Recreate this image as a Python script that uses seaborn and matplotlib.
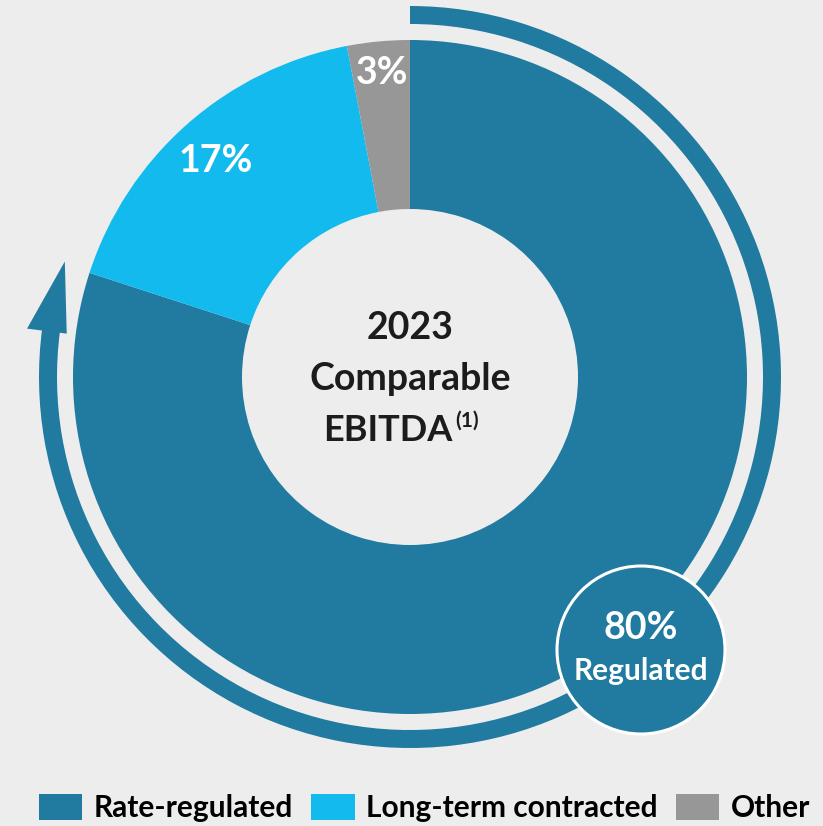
import numpy as np
import seaborn as sns
import matplotlib.pyplot as plt
from matplotlib.patches import Wedge, Circle, Polygon

sns.set_theme(style="white")
plt.rcParams['font.family'] = ['Lato', 'DejaVu Sans']

# data
categories = ["Rate-regulated", "Long-term contracted", "Other"]
shares = [80, 17, 3]
share_labels = ["", "17%", "3%"]
colors = ["#217AA0", "#12BAEE", "#979797"]
center_title = ["2023", "Comparable", "EBITDA"]
badge_text = ["80%", "Regulated"]

W, H = 823, 826
BG = "#EDEDED"
DARK = "#1C1C1C"


def py(y):
    # pixel row (from top) -> data y
    return H - y


fig = plt.figure(figsize=(W / 100, H / 100), dpi=100, facecolor=BG)
ax = fig.add_axes([0, 0, 1, 1])
ax.set_facecolor(BG)

cx, cy = 410, py(377)
r_out, r_in = 337, 168

wedges, _ = ax.pie(shares, colors=colors, startangle=90, counterclock=False,
                   radius=r_out, center=(cx, cy),
                   wedgeprops=dict(width=r_out - r_in, linewidth=0))

# outer arrow arc going clockwise from the top
arc_r, arc_w = 371, 18
head_ang = 172.5
ax.add_patch(Wedge((cx, cy), arc_r, head_ang, 450, width=arc_w,
                   facecolor=colors[0], linewidth=0))
rm = arc_r - arc_w / 2
a0, a1 = np.deg2rad(head_ang + 0.3), np.deg2rad(161.5)
head = [(cx + (rm - 16) * np.cos(a0), cy + (rm - 16) * np.sin(a0)),
        (cx + (rm + 24) * np.cos(a0), cy + (rm + 24) * np.sin(a0)),
        (cx + (rm + 2) * np.cos(a1), cy + (rm + 2) * np.sin(a1))]
ax.add_patch(Polygon(head, closed=True, facecolor=colors[0], linewidth=0))

# slice labels
ax.text(216, py(172), share_labels[1], color="white", fontsize=27,
        fontweight="bold", ha="center", va="baseline")
ax.text(382, py(84), share_labels[2], color="white", fontsize=27,
        fontweight="bold", ha="center", va="baseline")

# centre title
ax.text(cx, py(339), center_title[0], color=DARK, fontsize=27,
        fontweight="bold", ha="center", va="baseline")
ax.text(cx, py(390), center_title[1], color=DARK, fontsize=27,
        fontweight="bold", ha="center", va="baseline")
ax.text(453, py(441), center_title[2], color=DARK, fontsize=26,
        fontweight="bold", ha="right", va="baseline")
ax.text(455, py(427), "(1)", color=DARK, fontsize=15,
        fontweight="bold", ha="left", va="baseline")

# badge
bx, by = 641, py(650)
ax.add_patch(Circle((bx, by), 84, facecolor=colors[0], edgecolor="white",
                    linewidth=2.2, zorder=5))
ax.text(bx, py(639), badge_text[0], color="white", fontsize=27,
        fontweight="bold", ha="center", va="baseline", zorder=6)
ax.text(bx, py(680), badge_text[1], color="white", fontsize=21.5,
        fontweight="bold", ha="center", va="baseline", zorder=6)

ax.set_xlim(0, W)
ax.set_ylim(0, H)
ax.set_aspect("equal")
ax.axis("off")

leg = ax.legend(wedges, categories, loc="center", ncol=3, frameon=False,
                bbox_to_anchor=(0.516, 0.022), bbox_transform=fig.transFigure,
                prop=dict(family=['Lato', 'DejaVu Sans'], weight="bold",
                          size=21.5),
                handlelength=1.45, handleheight=1.0, handletextpad=0.4,
                columnspacing=0.6, borderpad=0, borderaxespad=0)
for t in leg.get_texts():
    t.set_color("black")

fig.savefig("out.png", dpi=100, facecolor=BG)
